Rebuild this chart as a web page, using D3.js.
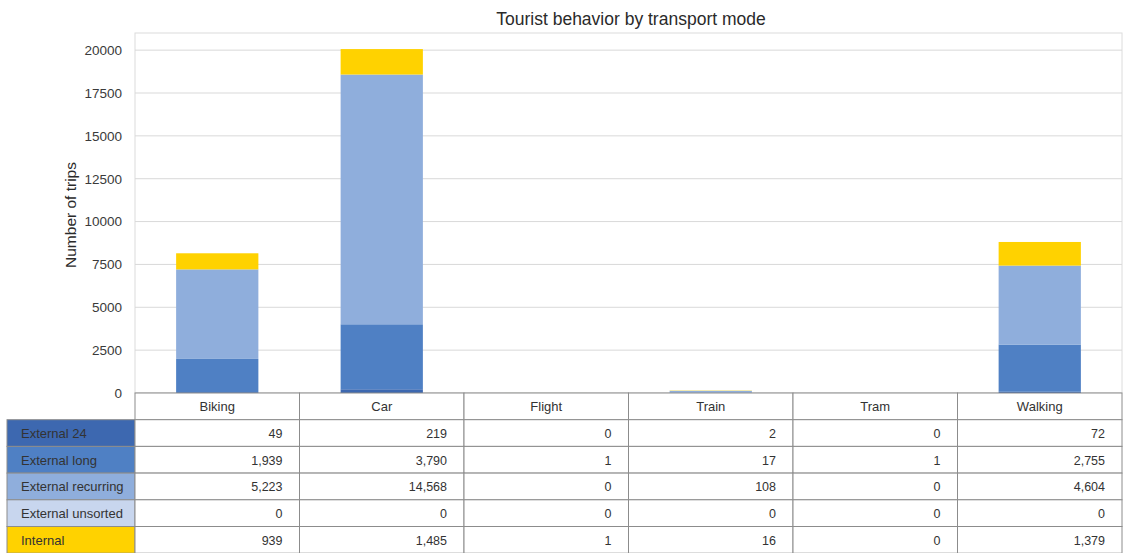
<!DOCTYPE html>
<html><head><meta charset="utf-8">
<script src="https://cdn.jsdelivr.net/npm/d3@7"></script>
<style>body{margin:0;background:#fff;}svg{display:block;font-family:"Liberation Sans",Arial,sans-serif;}</style>
</head><body><svg id="c" width="1126" height="553"></svg>
<script>
const categories = ["Biking","Car","Flight","Train","Tram","Walking"];
const seriesNames = ["External 24","External long","External recurring","External unsorted","Internal"];
const external24 = [49,219,0,2,0,72];
const externalLong = [1939,3790,1,17,1,2755];
const externalRecurring = [5223,14568,0,108,0,4604];
const externalUnsorted = [0,0,0,0,0,0];
const internal = [939,1485,1,16,0,1379];
const seriesColors = ["#3d68b0","#4f80c4","#8faedc","#c8d6ee","#ffd200"];
const yTicks = [0,2500,5000,7500,10000,12500,15000,17500,20000];
const title = "Tourist behavior by transport mode";
const yLabel = "Number of trips";

const seriesValues = [external24, externalLong, externalRecurring, externalUnsorted, internal];
const rows = categories.map((c,i)=>{const o={cat:c};seriesNames.forEach((s,j)=>o[s]=seriesValues[j][i]);return o;});

const svg = d3.select("#c");
const L=135, R=1122, T=33, B=393;
const x = d3.scaleBand().domain(categories).range([L,R]).paddingInner(0).paddingOuter(0);
const y = d3.scaleLinear().domain([0,21000]).range([B,T]);

// plot frame
svg.append("rect").attr("x",L).attr("y",T).attr("width",R-L).attr("height",B-T)
  .attr("fill","none").attr("stroke","#dcdcdc").attr("stroke-width",1);

// grid
svg.append("g").selectAll("line").data(yTicks).join("line")
  .attr("x1",L).attr("x2",R).attr("y1",d=>y(d)).attr("y2",d=>y(d))
  .attr("stroke","#d9d9d9").attr("stroke-width",1);

// y axis
const ya = svg.append("g").attr("transform",`translate(${L},0)`)
  .call(d3.axisLeft(y).tickValues(yTicks).tickSize(0).tickPadding(13).tickFormat(d3.format("d")));
ya.select(".domain").remove();
ya.selectAll("text").attr("font-size",13.5).attr("fill","#3a3a3a").attr("font-family","Liberation Sans, Arial, sans-serif");

// bars
const stack = d3.stack().keys(seriesNames)(rows);
const bw = x.bandwidth()*0.5;
svg.append("g").selectAll("g").data(stack).join("g")
  .attr("fill",(d,i)=>seriesColors[i])
  .selectAll("rect").data(d=>d).join("rect")
  .attr("x",d=>x(d.data.cat)+(x.bandwidth()-bw)/2)
  .attr("width",bw)
  .attr("y",d=>y(d[1]))
  .attr("height",d=>Math.max(0,y(d[0])-y(d[1])));

// title
svg.append("text").attr("x",631).attr("y",25).attr("text-anchor","middle")
  .attr("font-size",17.5).attr("fill","#2a2a2a").text(title);
// y label
svg.append("text").attr("transform",`translate(76,215) rotate(-90)`).attr("text-anchor","middle")
  .attr("font-size",15.5).attr("fill","#2a2a2a").text(yLabel);

// table
const rowH = 26.7, tL = 7;
const tbl = svg.append("g");
const stroke = "#8c8c8c";
// header row
tbl.selectAll("rect.h").data(categories).join("rect").attr("class","h")
  .attr("x",d=>x(d)).attr("y",B).attr("width",x.bandwidth()).attr("height",rowH)
  .attr("fill","#fff").attr("stroke",stroke).attr("stroke-width",1);
tbl.selectAll("text.h").data(categories).join("text").attr("class","h")
  .attr("x",d=>x(d)+x.bandwidth()/2).attr("y",B+rowH/2+5).attr("text-anchor","middle")
  .attr("font-size",13).attr("fill","#333").text(d=>d);

const fmt = d3.format(",");
seriesNames.forEach((s,j)=>{
  const yy = B+rowH*(j+1);
  tbl.append("rect").attr("x",tL).attr("y",yy).attr("width",L-tL).attr("height",rowH)
    .attr("fill",seriesColors[j]).attr("stroke",stroke).attr("stroke-width",1);
  tbl.append("text").attr("x",tL+14).attr("y",yy+rowH/2+5).attr("font-size",13)
    .attr("fill","#333").text(s);
  categories.forEach((c,i)=>{
    tbl.append("rect").attr("x",x(c)).attr("y",yy).attr("width",x.bandwidth()).attr("height",rowH)
      .attr("fill","#fff").attr("stroke",stroke).attr("stroke-width",1);
    tbl.append("text").attr("x",x(c)+x.bandwidth()-17).attr("y",yy+rowH/2+5).attr("text-anchor","end")
      .attr("font-size",12.5).attr("fill","#333").text(fmt(seriesValues[j][i]));
  });
});
</script></body></html>
